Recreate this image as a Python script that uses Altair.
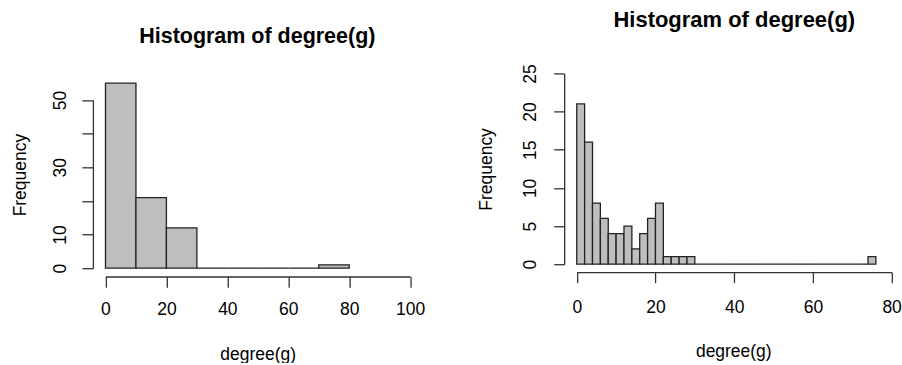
import altair as alt
import pandas as pd

# ---- data ----
left_bin_start = [0, 10, 20, 30, 40, 50, 60, 70]
left_bin_end = [10, 20, 30, 40, 50, 60, 70, 80]
left_counts = [55, 21, 12, 0, 0, 0, 0, 1]

right_bin_start = [0, 2, 4, 6, 8, 10, 12, 14, 16, 18, 20, 22, 24, 26, 28, 30, 32, 34, 36,
                   38, 40, 42, 44, 46, 48, 50, 52, 54, 56, 58, 60, 62, 64, 66, 68, 70, 72, 74]
right_bin_end = [2, 4, 6, 8, 10, 12, 14, 16, 18, 20, 22, 24, 26, 28, 30, 32, 34, 36, 38,
                 40, 42, 44, 46, 48, 50, 52, 54, 56, 58, 60, 62, 64, 66, 68, 70, 72, 74, 76]
right_counts = [21, 16, 8, 6, 4, 4, 5, 2, 4, 6, 8, 1, 1, 1, 1, 0, 0, 0, 0,
                0, 0, 0, 0, 0, 0, 0, 0, 0, 0, 0, 0, 0, 0, 0, 0, 0, 0, 1]

left_x_ticks = [0, 20, 40, 60, 80, 100]
left_y_ticks = [0, 10, 20, 30, 40, 50]
right_x_ticks = [0, 20, 40, 60, 80]
right_y_ticks = [0, 5, 10, 15, 20, 25]

title_text = "Histogram of degree(g)"
x_title = "degree(g)"
y_title = "Frequency"

FONT = "Liberation Sans"


def panel(starts, ends, counts, xdom, xrange, xticks, ydom, yrange, yticks,
          width, height, xoffset, ylabpad, xlabpad, ytitlex, ytitley, xtitlex, xtitley,
          xtick, ytick, title_size, title_offset, title_dx, hide_labels):
    df = pd.DataFrame({"start": starts, "end": ends, "count": counts})
    df["base"] = 0
    label_expr = "datum.label"
    if hide_labels:
        cond = " || ".join(f"datum.value == {v}" for v in hide_labels)
        label_expr = f"({cond}) ? '' : datum.label"
    chart = alt.Chart(df).mark_rect(
        fill="#BEBEBE", stroke="#222222", strokeWidth=1.3
    ).encode(
        x=alt.X("start:Q",
                scale=alt.Scale(domain=xdom, range=xrange, nice=False, zero=False),
                axis=alt.Axis(values=xticks, title=x_title, grid=False, offset=xoffset,
                              tickSize=xtick, labelPadding=xlabpad,
                              labelBaseline="alphabetic", labelFlush=False,
                              titleX=xtitlex, titleY=xtitley, titleAlign="center",
                              titleBaseline="alphabetic")),
        x2="end:Q",
        y=alt.Y("count:Q",
                scale=alt.Scale(domain=ydom, range=yrange, nice=False, zero=False),
                axis=alt.Axis(values=yticks, title=y_title, grid=False,
                              tickSize=ytick, labelPadding=ylabpad, labelAngle=270,
                              labelAlign="center", labelBaseline="top",
                              labelFlush=False, labelExpr=label_expr,
                              titleX=ytitlex, titleY=ytitley, titleAngle=270,
                              titleAlign="center", titleBaseline="alphabetic")),
        y2="base:Q",
    ).properties(
        width=width, height=height,
        title=alt.Title(title_text, fontSize=title_size, fontWeight="bold", font=FONT,
                        anchor="middle", frame="group", offset=title_offset, dx=title_dx,
                        color="#000"),
    )
    return chart


left = panel(left_bin_start, left_bin_end, left_counts,
             xdom=[0, 100], xrange=[12.6, 317.6], xticks=left_x_ticks,
             ydom=[0, 50], yrange=[195, 26.6], yticks=left_y_ticks,
             width=329.2, height=195, xoffset=8.3, ylabpad=30, xlabpad=27,
             ytitlex=-67.7, ytitley=101.3, xtitlex=165, xtitley=83,
             xtick=10.7, ytick=11, title_size=21.5, title_offset=26, title_dx=0,
             hide_labels=[20, 40])

right = panel(right_bin_start, right_bin_end, right_counts,
              xdom=[0, 80], xrange=[12.6, 327.8], xticks=right_x_ticks,
              ydom=[0, 25], yrange=[191, 0], yticks=right_y_ticks,
              width=330, height=195, xoffset=4, ylabpad=32, xlabpad=30,
              ytitlex=-73, ytitley=95.6, xtitlex=169.3, xtitley=84.3,
              xtick=10.5, ytick=10.5, title_size=22, title_offset=31.7, title_dx=5.3,
              hide_labels=[])

chart = alt.hconcat(left, right, spacing=141.8, bounds="flush").properties(
    padding={"left": 11, "top": 8.3, "right": 0, "bottom": 0},
    background="white",
).configure_view(stroke=None).configure_axis(
    labelFont=FONT, labelFontSize=17.5, labelColor="#000",
    titleFont=FONT, titleFontSize=17.5, titleFontWeight="normal", titleColor="#000",
    domainColor="#333333", tickColor="#333333", domainWidth=1.3, tickWidth=1.3,
)

chart.save("out.html", embed_options={"renderer": "svg", "actions": False})
